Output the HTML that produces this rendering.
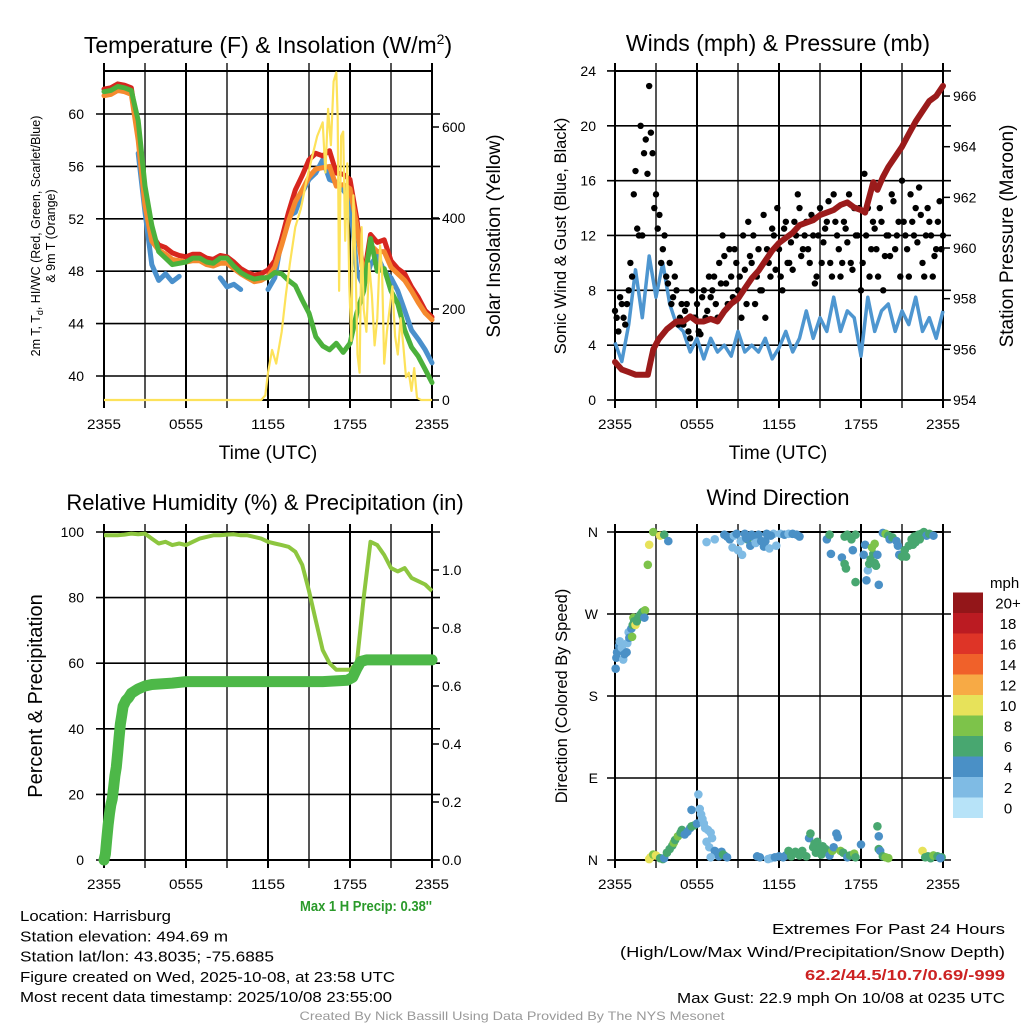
<!DOCTYPE html>
<html><head><meta charset="utf-8"><style>
html,body{margin:0;padding:0;background:#fff;}
svg{display:block;font-family:"Liberation Sans",sans-serif;}
</style></head><body>
<svg id="fig" width="1024" height="1024" viewBox="0 0 1024 1024" xmlns="http://www.w3.org/2000/svg">
<g id="layer"></g>
</svg>
<script>
// ---------- Temperature panel data ----------
const tTimes = [0,0.5,1,1.5,2,2.5,3,3.5,4,4.5,5,5.5,6,6.5,7,7.5,8,8.5,9,9.5,10,10.5,11,11.5,12,12.5,13,13.5,14,14.5,15,15.5,16,16.5,17,17.5,18,18.5,19,19.5,20,20.5,21,21.5,22,22.5,23,23.5,24];
const tempRed = [61.9,62.0,62.3,62.2,62.0,58.5,53.5,50.8,50.0,49.8,49.4,49.2,49.1,49.3,49.3,49.0,48.9,49.2,49.1,48.7,48.2,47.9,47.7,47.8,48.1,48.8,50.5,52.5,54.2,55.3,56.5,57.0,56.8,57.2,55.5,55.4,55.0,52.0,47.5,50.8,50.2,50.4,48.8,48.2,47.8,46.8,46.0,45.0,44.5];
const tempOrange = [61.4,61.5,61.8,61.7,61.5,58.0,53.0,50.3,49.6,49.3,48.9,48.8,48.7,48.8,48.8,48.5,48.4,48.6,48.6,48.2,47.8,47.5,47.2,47.3,47.6,48.3,50.0,51.8,53.3,54.2,55.2,55.8,55.9,56.0,54.5,54.6,54.3,51.5,47.5,50.0,49.5,49.5,48.3,47.8,47.3,46.5,45.6,44.8,44.3];
const tempGreen = [61.7,61.8,62.1,62.0,61.8,59.5,54.5,51.5,49.5,49.0,48.5,48.6,48.7,49.0,49.0,48.7,48.6,49.0,49.0,48.4,47.9,47.6,47.4,47.5,47.5,47.9,47.8,47.3,46.9,45.8,44.8,43.0,42.3,42.0,42.5,41.8,42.5,44.8,46.5,50.5,48.0,48.2,46.5,45.5,43.5,42.2,41.5,40.5,39.5];
const tempBlue = [null,null,null,null,null,57.0,52.5,48.5,47.3,47.8,47.2,47.6,null,47.6,null,null,null,47.5,46.8,47.0,46.6,null,null,null,46.6,47.5,50.5,52.2,52.5,54.0,55.0,55.5,56.5,55.0,54.8,54.2,53.5,48.0,46.8,48.5,49.2,48.0,47.5,46.5,45.0,43.5,42.8,42.0,41.0];
const solarTimes = [0,11.5,11.8,12.0,12.3,12.6,13.0,13.3,13.6,14.0,14.4,14.8,15.2,15.6,16.0,16.2,16.4,16.6,16.8,17.0,17.1,17.2,17.35,17.5,17.65,17.8,17.95,18.1,18.25,18.4,18.55,18.7,18.85,19.0,19.2,19.4,19.6,19.8,20.0,20.2,20.35,20.5,20.7,20.9,21.1,21.3,21.5,21.7,21.9,22.1,22.3,22.5,22.7,22.9,23.2,24];
const solarVals  = [0,0,10,60,110,80,150,230,300,380,420,480,530,580,610,500,640,560,700,720,620,240,580,590,350,520,250,130,450,300,100,60,380,200,150,300,230,120,180,340,280,80,150,200,250,140,100,180,120,50,60,20,70,5,0,0];
const tempTicks = [40,44,48,52,56,60];
const solarTicks = [0,200,400,600];
const timeTickLabels = ["2355","0555","1155","1755","2355"];

// ---------- Wind panel data ----------
const windTimes = [0,0.5,1,1.5,2,2.5,3,3.5,4,4.5,5,5.5,6,6.5,7,7.5,8,8.5,9,9.5,10,10.5,11,11.5,12,12.5,13,13.5,14,14.5,15,15.5,16,16.5,17,17.5,18,18.5,19,19.5,20,20.5,21,21.5,22,22.5,23,23.5,24];
const windSpeed = [4.2,2.8,5.5,9.5,6,10.5,7.5,10,7,5.5,5,3.5,4.5,3,4.5,3.5,4,3.2,5,3.5,4,3.5,4.5,3,3.8,5,3.5,4.5,6.5,4.5,6,5,7.5,5,6.5,6,3.2,7.5,5,6.5,7,5,6.5,5.5,7.5,5,6,4.5,6.5];
const gustA = [6.5,5,7,5.5,8,9,16.7,12,12,19,22.9,18,15,13.5,11,9,10,7.5,8,6,5.5,7,4.5,6,7,4.8,8,6.5,7.5,9,6,8.5,10.5,7,9,11,8,6,9.5,13,10,7,11,8,6,10,12.5,9.5,11,8,13,10,9.5,12,14,11,13,10,12,9,14,11.5,13,10,15,12,9,13,11.5,10,14,12,8,16.5,14,11,12.5,9,13,10.5,12,15,11,13,16,12,9,13,14,15.5,10,12,13,9,11,14.5,12];
const gustB = [6,7.5,6,7,10,15,12.5,20,18,16.5,19.5,14,12.5,10,12,8.5,7,9,5.5,7,6.5,5,8,6,5,7.5,6,9,8,7,10,12,8.5,11,7.5,10,9,12,7,10.5,12,9,8,13.5,11,9,12,14,9,12.5,10,11.5,13,15,10.5,12,11,13.5,8.5,12,10,12.5,14.5,9,13,11,10,12.5,15,9.5,12,14,10,12,9,13,11,14,8,12,10.5,14.5,12,9,13,11,15,12,11.5,13.5,9,14,12,10.5,13,11];
const presTimes = [0,0.5,1,1.5,2,2.4,2.6,2.8,3.2,3.8,4.5,5,5.5,6,6.5,7,7.5,8,8.5,9,9.5,10,10.5,11,11.5,12,12.5,13,13.5,14,14.5,15,15.5,16,16.5,17,17.5,18,18.3,18.6,18.9,19.2,19.6,20,20.5,21,21.5,22,22.5,23,23.5,24];
const presVals = [955.5,955.2,955.1,955.0,955.0,955.0,955.5,956.0,956.4,956.8,957.1,957.1,957.3,957.1,957.1,957.2,957.1,957.5,957.8,958.0,958.4,958.8,959.1,959.5,959.9,960.2,960.4,960.6,960.9,961.0,961.1,961.3,961.4,961.5,961.7,961.8,961.6,961.5,961.4,962.0,962.6,962.3,962.8,963.2,963.6,964.0,964.5,965.0,965.4,965.8,966.0,966.4];
const windTicks = [0,4,8,12,16,20,24];
const presTicks = [954,956,958,960,962,964,966];

// ---------- RH panel data ----------
const rhTimes = tTimes;
const rhVals = [99,99,99,99.2,99.5,99.3,99.5,98,96.5,97,96,96.5,96,97,98,98.5,99,99,99.2,99.3,99,99,98.5,98,97,96.5,96,95.5,94,90,82,73,64,60,58,58,58,60,80,97,96,93,89,88,89,86,85,84,82];
const precipTimes = [0,0.1,0.2,0.3,0.4,0.5,0.6,0.7,0.8,0.9,1.0,1.1,1.2,1.3,1.4,1.6,1.8,2.0,2.5,3.0,3.5,5,6,10,16,17.8,18.2,18.5,18.8,19.2,24];
const precipVals = [0,0.02,0.07,0.12,0.16,0.19,0.21,0.25,0.29,0.32,0.37,0.42,0.47,0.5,0.53,0.55,0.56,0.575,0.59,0.6,0.605,0.61,0.615,0.615,0.615,0.62,0.63,0.66,0.685,0.69,0.69];
const rhTicks = [0,20,40,60,80,100];
const precipTicks = [0,0.2,0.4,0.6,0.8,1.0];

// ---------- Wind direction data ----------
const dirTimes = [0.05,0.1,0.15,0.3,0.35,0.5,0.6,0.7,0.85,0.9,1.0,1.05,1.2,1.25,1.3,1.35,1.4,1.5,1.6,1.7,1.8,1.9,2.0,2.1,2.2,2.15,
2.4,2.5,2.8,3.3,3.6,3.9,
6.7,7.3,8.0,8.2,8.4,8.6,8.7,8.9,9.0,9.2,9.3,9.5,9.7,9.9,10.1,10.3,10.5,10.7,10.9,11.1,11.3,11.6,11.8,12.1,12.4,12.7,13.0,13.3,13.5,9.6,10.0,11.0,11.4,
15.5,15.7,15.8,16.8,17.0,17.3,17.4,17.6,16.6,16.8,16.9,17.6,18.3,18.2,18.4,18.5,18.6,18.7,18.9,19.0,19.1,19.2,19.3,18.8,19.0,
19.6,19.8,20.0,20.1,20.3,20.6,20.7,20.8,21.0,21.2,21.3,21.5,21.7,21.9,22.0,22.2,22.4,22.6,22.8,23.0,23.3,21.8,22.3,
2.5,2.6,2.8,3.0,3.3,3.5,3.6,3.8,4.0,4.2,4.3,4.4,4.6,4.8,4.9,5.1,5.3,5.5,5.6,5.8,6.0,5.6,6.1,6.2,6.3,6.4,6.5,6.6,6.8,7.0,7.1,6.7,6.9,7.3,7.5,7.6,7.8,8.0,7.9,7.0,8.2,
10.4,10.6,11.2,11.4,11.7,12.0,12.3,12.5,12.7,12.9,13.2,13.5,13.7,14.0,14.2,14.3,14.5,14.6,14.7,14.8,15.0,15.1,15.2,15.4,15.6,15.7,15.9,16.0,16.2,16.3,16.5,16.7,17.0,17.2,17.5,17.6,18.0,19.2,19.3,19.3,19.4,19.6,19.8,20.0,22.5,22.7,22.9,23.1,23.3,23.6,23.9,23.8];
const dirDegs = [210,222,228,235,240,233,220,226,228,238,250,244,254,245,258,266,262,258,262,266,268,270,272,273,274,266,
324,346,360,356,357,350,
349,352,357,355,352,343,356,358,340,350,335,358,352,345,355,348,357,350,344,358,342,358,345,358,357,358,358,357,355,353,357,350,356,
352,357,336,355,357,352,340,357,332,325,320,305,346,335,307,318,325,330,336,326,323,335,302,343,347,
359,358,356,352,354,350,345,335,333,340,333,345,352,355,349,357,358,360,356,358,356,346,352,
1,3,6,5,2,1,2,8,12,16,19,22,26,30,33,28,31,35,37,38,40,55,72,56,50,45,40,35,33,30,24,20,14,10,8,4,9,5,6,3,3,
4,3,1,2,3,4,3,5,10,4,9,5,10,4,24,29,14,18,8,20,13,6,15,12,8,5,10,14,29,25,10,8,3,5,7,3,17,37,26,12,10,4,3,2,10,3,4,2,5,4,3,2];
const dirSpeeds = [4,4,4,4,2,2,2,4,4,2,2,4,4,8,6,8,6,10,6,6,6,6,6,6,8,4,
8,10,8,10,6,4,
2,2,4,4,4,2,2,4,2,2,2,4,6,4,4,2,4,4,4,4,2,2,2,2,4,2,4,4,4,4,4,4,4,
4,6,4,6,6,6,4,6,4,6,6,6,4,4,4,2,6,6,6,6,6,4,4,8,8,
4,8,6,4,6,4,4,4,6,6,6,6,6,6,6,6,6,6,4,6,4,6,6,
10,10,8,10,6,6,4,6,6,6,8,6,8,6,6,4,4,4,6,6,4,4,2,2,2,2,2,2,2,2,2,2,2,4,4,4,4,4,6,2,4,
4,4,2,2,4,4,4,4,6,6,6,6,6,6,4,6,6,6,6,6,6,6,6,6,6,4,8,4,4,4,8,6,4,6,8,6,4,6,4,6,4,6,8,8,10,6,6,6,8,6,6,4];
const dirTickLabels = ["N","E","S","W","N"];
const speedBins = ["0","2","4","6","8","10","12","14","16","18","20+"];
const speedColors = ["#b7e3f8","#7fbbe4","#4a90c6","#48a770","#7dc34a","#e7e25a","#f7aa45","#f0612a","#de3427","#bb1b22","#931619"];

// ---------- drawing helpers ----------
const NS = "http://www.w3.org/2000/svg";
const root = document.getElementById("layer");
function mk(tag, attrs, parent) {
  const e = document.createElementNS(NS, tag);
  for (const k in attrs) e.setAttribute(k, attrs[k]);
  (parent || root).appendChild(e);
  return e;
}
function txt(str, x, y, size, anchor, parent, extra) {
  const t = mk("text", Object.assign({x: x, y: y, "font-size": size, "text-anchor": anchor || "middle", fill: "#000"}, extra || {}), parent);
  t.textContent = str;
  return t;
}
function linePath(xs, ys, xf, yf) {
  let d = "", pen = false;
  for (let i = 0; i < xs.length; i++) {
    if (ys[i] === null) { pen = false; continue; }
    d += (pen ? "L" : "M") + xf(xs[i]).toFixed(1) + " " + yf(ys[i]).toFixed(1) + " ";
    pen = true;
  }
  return d;
}
function panelFrame(g, x0, y0, x1, y1, yTicksPx, name) {
  for (let k = 0; k <= 8; k++) {
    const x = x0 + (x1 - x0) * k / 8;
    const l = mk("line", {x1: x, y1: y0 - 8, x2: x, y2: y1 + 8, stroke: (k % 2 === 0 ? "#000" : "#555"), "stroke-width": 2}, g);
    
    
  }
  yTicksPx.forEach(function (y) {
    const l = mk("line", {x1: x0 - 8, y1: y, x2: x1 + 8, y2: y, stroke: "#000", "stroke-width": 1.6}, g);
    
    
  });
  const b = mk("rect", {x: x0, y: y0, width: x1 - x0, height: y1 - y0, fill: "none", stroke: "#000", "stroke-width": 2}, g);
  
  
}
function timeLabels(g, x0, x1, y) {
  timeTickLabels.forEach(function (s, i) {
    const t = txt(s, x0 + (x1 - x0) * i / 4, y, 14, "middle", g, {"textLength": 34, "lengthAdjust": "spacingAndGlyphs"});
    
    
  });
}
function rotLabel(g, str, x, y, size, name) {
  const t = txt(str, 0, 0, size, "middle", g);
  t.setAttribute("transform", "translate(" + x + "," + y + ") rotate(-90)");
  
  
  return t;
}

// ================= Panel 1: Temperature =================
(function () {
  const g = mk("g", {});
  
  
  const X0 = 104, X1 = 432, Y0 = 71, Y1 = 400;
  const xS = h => X0 + (X1 - X0) * h / 24;
  const yT = v => 376 - (v - 40) * 13.1;
  const yS = v => Y1 - v * 0.455;
  panelFrame(g, X0, Y0, X1, Y1, tempTicks.map(yT), "temp");
  tempTicks.forEach(function (v) {
    const t = txt(String(v), 84, yT(v) + 5, 14, "end", g);
    
    
  });
  solarTicks.forEach(function (v) {
    const t = txt(String(v), 442, yS(v) + 5, 14, "start", g);
    
    
    const m = mk("line", {x1: X1, y1: yS(v), x2: X1 + 7, y2: yS(v), stroke: "#000", "stroke-width": 1.5}, g);
    
    
  });
  const draw = [[tempBlue, "#4a90cc", "dewpoint-line"], [tempRed, "#d7261e", "temp-2m-line"], [tempOrange, "#f58a2e", "temp-9m-line"], [tempGreen, "#4bb13c", "heat-index-line"]];
  draw.forEach(function (s) {
    const p = mk("path", {d: linePath(tTimes, s[0], xS, yT), fill: "none", stroke: s[1], "stroke-width": 5, "stroke-linejoin": "round", "stroke-linecap": "round"}, g);
    
    
  });
  const sp = mk("path", {d: linePath(solarTimes, solarVals, xS, yS), fill: "none", stroke: "#fde25a", "stroke-width": 2.2, "stroke-linejoin": "round"}, g);
  
  
  timeLabels(g, X0, X1, 429);
  const xt = txt("Time (UTC)", 268, 459, 19, "middle", g);
  
  
  const title = mk("text", {x: 268, y: 53, "font-size": 23, "text-anchor": "middle"}, g);
  title.innerHTML = 'Temperature (F) &amp; Insolation (W/m<tspan dy="-9" font-size="14">2</tspan><tspan dy="9">)</tspan>';
  
  
  const yl = mk("text", {"font-size": 12.5, "text-anchor": "middle", transform: "translate(40,236) rotate(-90)"}, g);
  yl.innerHTML = '2m T, T<tspan dy="3" font-size="9">d</tspan><tspan dy="-3">, HI/WC (Red, Green, Scarlet/Blue)</tspan>';
  
  
  rotLabel(g, "& 9m T (Orange)", 55, 236, 12.5, "temp-y-axis-title-line2");
  rotLabel(g, "Solar Insolation (Yellow)", 500, 236, 19, "solar-y-axis-title");
})();

// ================= Panel 2: Winds =================
(function () {
  const g = mk("g", {});
  
  
  const X0 = 615, X1 = 943, Y0 = 71, Y1 = 400;
  const xS = h => X0 + (X1 - X0) * h / 24;
  const yW = v => Y1 - v * 13.71;
  const yP = v => Y1 - (v - 954) * 25.33;
  panelFrame(g, X0, Y0, X1, Y1, windTicks.map(yW), "winds");
  windTicks.forEach(function (v) {
    const t = txt(String(v), 596, yW(v) + 5, 14, "end", g);
    
    
  });
  presTicks.forEach(function (v) {
    const t = txt(String(v), 953, yP(v) + 5, 14, "start", g);
    
    
    const m = mk("line", {x1: X1, y1: yP(v), x2: X1 + 7, y2: yP(v), stroke: "#000", "stroke-width": 1.5}, g);
    
    
  });
  const wp = mk("path", {d: linePath(windTimes, windSpeed, xS, yW), fill: "none", stroke: "#4e96d0", "stroke-width": 3.5, "stroke-linejoin": "round"}, g);
  
  
  gustA.forEach(function (v, i) {
    const c = mk("circle", {cx: xS(i * 0.25), cy: yW(v), r: 3.2, fill: "#000"}, g);
    
    
  });
  gustB.forEach(function (v, i) {
    const c = mk("circle", {cx: xS(0.125 + i * 0.25), cy: yW(v), r: 3.2, fill: "#000"}, g);
    
    
  });
  const pp = mk("path", {d: linePath(presTimes, presVals, xS, yP), fill: "none", stroke: "#9b1b1b", "stroke-width": 6, "stroke-linejoin": "round", "stroke-linecap": "round"}, g);
  
  
  timeLabels(g, X0, X1, 429);
  const xt = txt("Time (UTC)", 778, 459, 19, "middle", g);
  
  
  const title = txt("Winds (mph) & Pressure (mb)", 778, 51, 23, "middle", g);
  
  
  rotLabel(g, "Sonic Wind & Gust (Blue, Black)", 566, 236, 16.5, "wind-y-axis-title");
  rotLabel(g, "Station Pressure (Maroon)", 1013, 236, 19, "pressure-y-axis-title");
})();

// ================= Panel 3: RH & Precip =================
(function () {
  const g = mk("g", {});
  
  
  const X0 = 104, X1 = 432, Y0 = 532, Y1 = 860;
  const xS = h => X0 + (X1 - X0) * h / 24;
  const yR = v => Y1 - v * 3.28;
  const yPr = v => Y1 - v * 290;
  panelFrame(g, X0, Y0, X1, Y1, rhTicks.map(yR), "rh");
  rhTicks.forEach(function (v) {
    const t = txt(String(v), 84, yR(v) + 5, 14, "end", g);
    
    
  });
  precipTicks.forEach(function (v) {
    const t = txt(v.toFixed(1), 442, yPr(v) + 5, 14, "start", g);
    
    
    const m = mk("line", {x1: X1, y1: yPr(v), x2: X1 + 7, y2: yPr(v), stroke: "#000", "stroke-width": 1.5}, g);
    
    
  });
  const rp = mk("path", {d: linePath(rhTimes, rhVals, xS, yR), fill: "none", stroke: "#8dc63f", "stroke-width": 4, "stroke-linejoin": "round"}, g);
  
  
  const pp = mk("path", {d: linePath(precipTimes, precipVals, xS, yPr), fill: "none", stroke: "#4db848", "stroke-width": 11, "stroke-linejoin": "round", "stroke-linecap": "round"}, g);
  
  
  timeLabels(g, X0, X1, 889);
  const mp = txt("Max 1 H Precip: 0.38''", 432, 911, 15, "end", g, {fill: "#2a9a2a", "font-weight": "bold", "textLength": 132, "lengthAdjust": "spacingAndGlyphs"});
  
  
  const title = txt("Relative Humidity (%) & Precipitation (in)", 265, 510, 22, "middle", g);
  
  
  rotLabel(g, "Percent & Precipitation", 42, 696, 20, "rh-y-axis-title");
})();

// ================= Panel 4: Wind Direction =================
(function () {
  const g = mk("g", {});
  
  
  const X0 = 615, X1 = 943, Y0 = 532, Y1 = 860;
  const xS = h => X0 + (X1 - X0) * h / 24;
  const yD = d => Y1 - d * (Y1 - Y0) / 360;
  panelFrame(g, X0, Y0, X1, Y1, [0, 90, 180, 270, 360].map(yD), "dir");
  dirTickLabels.forEach(function (s, i) {
    const t = txt(s, 598, yD(i * 90) + 5, 14, "end", g);
    
    
  });
  function colorFor(s) {
    let idx = Math.min(10, Math.max(0, Math.floor(s / 2)));
    return speedColors[idx];
  }
  dirTimes.forEach(function (h, i) {
    const c = mk("circle", {cx: xS(h), cy: yD(dirDegs[i]), r: 4.3, fill: colorFor(dirSpeeds[i])}, g);
    
    
  });
  timeLabels(g, X0, X1, 889);
  const title = txt("Wind Direction", 778, 505, 22, "middle", g);
  
  
  rotLabel(g, "Direction (Colored By Speed)", 567, 696, 16.5, "direction-y-axis-title");
  const lg = mk("g", {}, g);
  
  
  const lt = txt("mph", 990, 588, 15, "start", lg);
  
  
  speedBins.forEach(function (lab, i) {
    const y = 818 - (i + 1) * 20.5;
    const r = mk("rect", {x: 953, y: y, width: 30, height: 20.5, fill: speedColors[i]}, lg);
    
    
    const t = txt(lab, 1008, y + 16, 15, "middle", lg);
    
    
  });
})();

// ================= Footer =================
(function () {
  const g = mk("g", {});
  
  
  const left = ["Location: Harrisburg", "Station elevation: 494.69 m", "Station lat/lon: 43.8035; -75.6885", "Figure created on Wed, 2025-10-08, at 23:58 UTC", "Most recent data timestamp: 2025/10/08 23:55:00"];
  const leftW = [151, 208, 254, 375, 372];
  left.forEach(function (s, i) {
    const t = txt(s, 20, 921 + i * 20.3, 15, "start", g, {"textLength": leftW[i], "lengthAdjust": "spacingAndGlyphs"});
    
    
  });
  const r1 = txt("Extremes For Past 24 Hours", 1005, 934, 15, "end", g, {"textLength": 233, "lengthAdjust": "spacingAndGlyphs"});
  
  
  const r2 = txt("(High/Low/Max Wind/Precipitation/Snow Depth)", 1005, 957, 15, "end", g, {"textLength": 385, "lengthAdjust": "spacingAndGlyphs"});
  
  
  const r3 = txt("62.2/44.5/10.7/0.69/-999", 1005, 980, 15, "end", g, {fill: "#cc2222", "font-weight": "bold", "textLength": 200, "lengthAdjust": "spacingAndGlyphs"});
  
  
  const r4 = txt("Max Gust: 22.9 mph On 10/08 at 0235 UTC", 1005, 1003, 15, "end", g, {"textLength": 328, "lengthAdjust": "spacingAndGlyphs"});
  
  
  const c = txt("Created By Nick Bassill Using Data Provided By The NYS Mesonet", 512, 1020, 12, "middle", g, {fill: "#999", "textLength": 425, "lengthAdjust": "spacingAndGlyphs"});
  
  
})();
</script>
</body></html>
